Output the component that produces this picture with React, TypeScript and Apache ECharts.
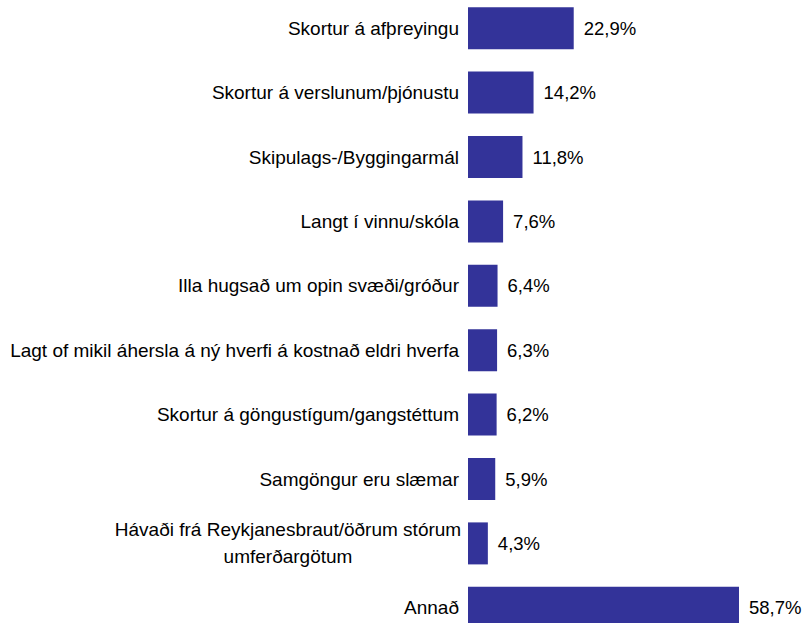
import React, { useEffect, useRef } from "react";
import * as echarts from "echarts";

const categories = [
  "Skortur á afþreyingu",
  "Skortur á verslunum/þjónustu",
  "Skipulags-/Byggingarmál",
  "Langt í vinnu/skóla",
  "Illa hugsað um opin svæði/gróður",
  "Lagt of mikil áhersla á ný hverfi á kostnað eldri hverfa",
  "Skortur á göngustígum/gangstéttum",
  "Samgöngur eru slæmar",
  "Hávaði frá Reykjanesbraut/öðrum stórum\numferðargötum",
  "Annað",
];
const values = [22.9, 14.2, 11.8, 7.6, 6.4, 6.3, 6.2, 5.9, 4.3, 58.7];

const FONT = "'Liberation Sans', Arial, sans-serif";

export default function App() {
  const ref = useRef<HTMLDivElement>(null);
  useEffect(() => {
    if (!ref.current) return;
    const chart = echarts.init(ref.current, null, { renderer: "svg" });
    chart.setOption({
      animation: false,
      grid: { left: 468, width: 277, top: -4, height: 644, outerBoundsMode: "none", containLabel: false },
      xAxis: { type: "value", min: 0, max: 60, show: false },
      yAxis: {
        type: "category",
        inverse: true,
        data: categories.map((c) =>
          c.includes("\n")
            ? { value: c, textStyle: { align: "center", padding: [0, 342, 0, 0] } }
            : c
        ),
        axisLine: { show: false },
        axisTick: { show: false },
        axisLabel: { color: "#000", fontSize: 19, fontFamily: FONT, margin: 9, lineHeight: 27 },
      },
      series: [
        {
          type: "bar",
          data: values,
          barWidth: 42,
          itemStyle: { color: "#333399" },
          label: {
            show: true,
            position: "right",
            distance: 10,
            color: "#000",
            fontSize: 18.5,
            fontFamily: FONT,
            formatter: (p: any) => p.value.toFixed(1).replace(".", ",") + "%",
          },
        },
      ],
    });
    return () => chart.dispose();
  }, []);
  return (
    <div
      ref={ref}
      style={{ position: "fixed", left: 0, top: 0, width: 806, height: 623, background: "#fff" }}
    />
  );
}
